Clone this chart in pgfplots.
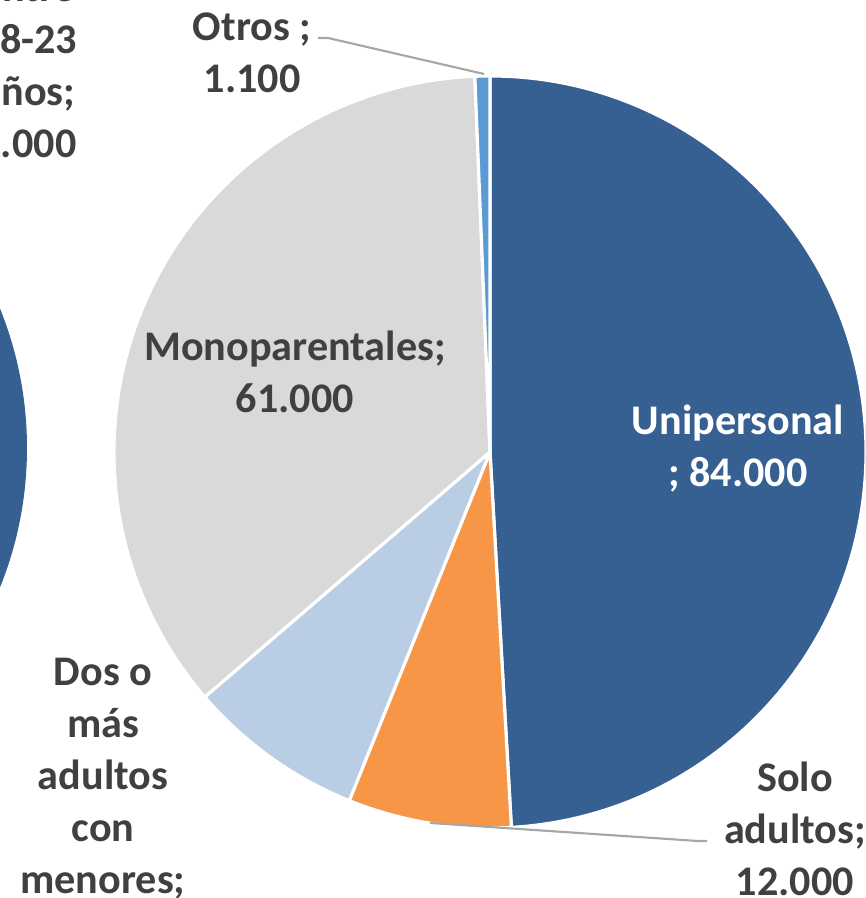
\documentclass[border=0pt]{standalone}
\usepackage{pgfplots}
\usepackage{pgfplotstable}
\pgfplotsset{compat=1.18}
\usepackage{fontspec}
\setmainfont{Carlito}

\definecolor{uni}{HTML}{376092}
\definecolor{solo}{HTML}{F79646}
\definecolor{dos}{HTML}{B9CDE5}
\definecolor{mono}{HTML}{D9D9D9}
\definecolor{otros}{HTML}{5B9BD5}
\definecolor{texto}{HTML}{404040}
\definecolor{guia}{HTML}{A6A6A6}

% hogares por tipo (sentido horario desde arriba)
\pgfplotstableread{
tipo valor
Unipersonal 84000
Solo 12000
Dos 13000
Mono 61000
Otros 1100
}\datos

\begin{document}
\begin{tikzpicture}
\pgfplotstablegetelem{0}{valor}\of\datos \let\vA\pgfplotsretval
\pgfplotstablegetelem{1}{valor}\of\datos \let\vB\pgfplotsretval
\pgfplotstablegetelem{2}{valor}\of\datos \let\vC\pgfplotsretval
\pgfplotstablegetelem{3}{valor}\of\datos \let\vD\pgfplotsretval
\pgfplotstablegetelem{4}{valor}\of\datos \let\vE\pgfplotsretval
\edef\total{\fpeval{\vA+\vB+\vC+\vD+\vE}}
\edef\eA{\fpeval{round(90-360*\vA/\total,3)}}
\edef\eB{\fpeval{round(\eA-360*\vB/\total,3)}}
\edef\eC{\fpeval{round(\eB-360*\vC/\total,3)}}
\edef\eD{\fpeval{round(\eC-360*\vD/\total,3)}}
\def\R{3.76cm}
\begin{axis}[
  scale only axis, width=8.65cm, height=8.98cm,
  xmin=0, xmax=865, ymin=0, ymax=898,
  hide axis, clip=true,
  nodes={font=\bfseries\fontsize{12}{14.8}\selectfont, text=texto, align=center},
]
  \coordinate (BL) at (axis cs:0,0);
  \coordinate (TR) at (axis cs:865,898);
  % pastel de la izquierda (recortado)
  \fill[uni] (axis cs:-345,450) circle[radius=3.72cm];
  % pastel principal
  \begin{scope}[draw=white, line width=0.9pt, line join=round]
  \filldraw[fill=uni] (axis cs:490,446) -- ++(90:\R) arc[start angle=90, end angle=\eA, radius=\R] -- cycle;
  \filldraw[fill=solo] (axis cs:490,446) -- ++(\eA:\R) arc[start angle=\eA, end angle=\eB, radius=\R] -- cycle;
  \filldraw[fill=dos] (axis cs:490,446) -- ++(\eB:\R) arc[start angle=\eB, end angle=\eC, radius=\R] -- cycle;
  \filldraw[fill=mono] (axis cs:490,446) -- ++(\eC:\R) arc[start angle=\eC, end angle=\eD, radius=\R] -- cycle;
  \filldraw[fill=otros] (axis cs:490,446) -- ++(\eD:\R) arc[start angle=\eD, end angle=-270, radius=\R] -- cycle;
  \end{scope}
  % líneas guía
  \draw[guia, line width=0.6pt] (axis cs:318,860) -- (axis cs:328,860) -- (axis cs:484,824);
  \draw[guia, line width=0.6pt] (axis cs:430,75) -- (axis cs:698,57) -- (axis cs:707,57);
  % etiquetas
  \node at (axis cs:28,832) {entre\\18-23\\años;\\5.000};
  \node at (axis cs:252,845) {Otros ;\\1.100};
  \node at (axis cs:295,526) {Monoparentales;\\61.000};
  \node[text=white] at (axis cs:738,449) {Unipersonal\\; 84.000};
  \node at (axis cs:795,69) {Solo\\adultos;\\12.000};
  \node at (axis cs:103,96) {Dos o\\más\\adultos\\con\\menores;\\13.000};
\end{axis}
\pgfresetboundingbox
\path[use as bounding box] (BL) rectangle (TR);
\end{tikzpicture}
\end{document}
